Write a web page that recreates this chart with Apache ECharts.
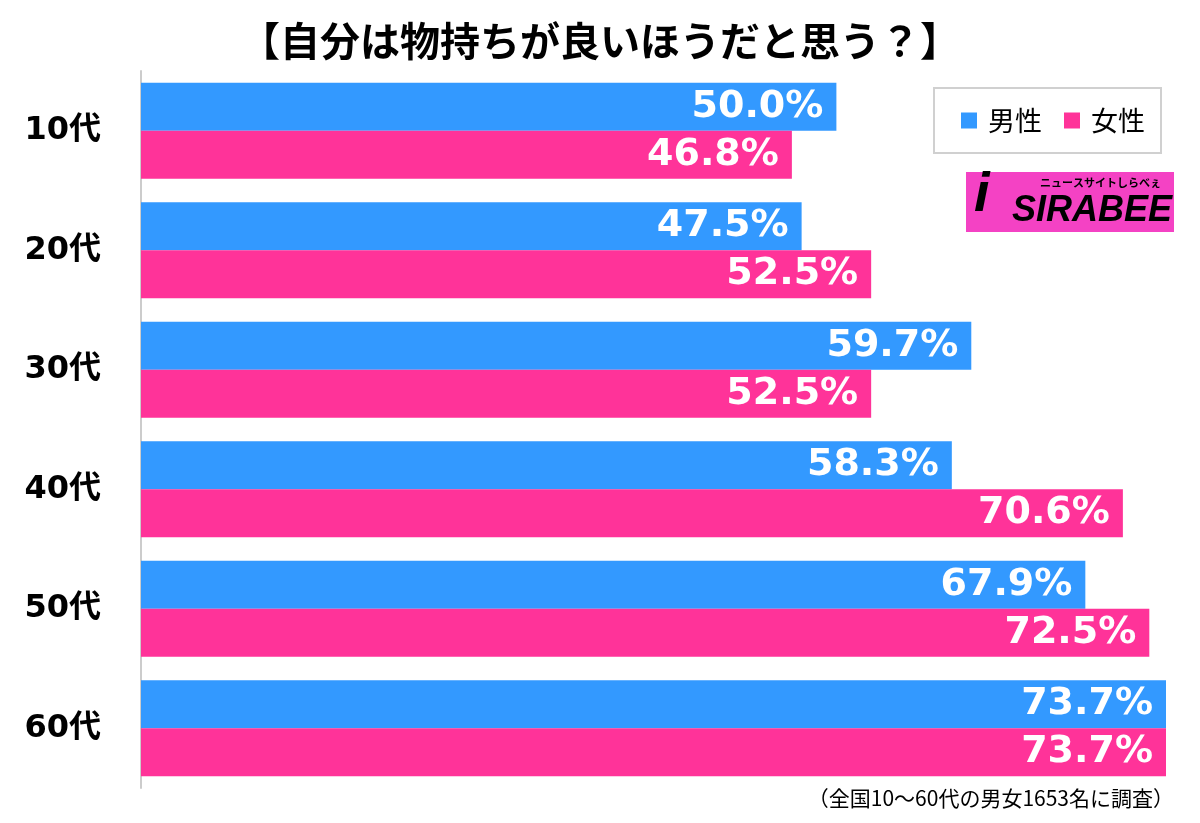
<!DOCTYPE html>
<html>
<head>
<meta charset="utf-8">
<script src="https://cdn.jsdelivr.net/npm/echarts@6/dist/echarts.min.js"></script>
<style>html,body{margin:0;padding:0;background:#fff;}#c{width:1200px;height:823px;}</style>
</head>
<body>
<div id="c"></div>
<script>
const categories = ['10代', '20代', '30代', '40代', '50代', '60代'];
const seriesNames = ['男性', '女性'];
const maleValues = [50.0, 47.5, 59.7, 58.3, 67.9, 73.7];
const femaleValues = [46.8, 52.5, 52.5, 70.6, 72.5, 73.7];
const titleText = '【自分は物持ちが良いほうだと思う？】';
const noteText = '（全国10～60代の男女1653名に調査）';

const BLUE = '#3399ff';
const PINK = '#ff3399';
const chart = echarts.init(document.getElementById('c'), null, {renderer: 'canvas'});

const labelCfg = {
  show: true,
  position: 'insideRight',
  distance: 13,
  color: '#fff',
  fontFamily: 'DejaVu Sans',
  fontWeight: 'bold',
  fontSize: 38,
  formatter: p => p.value.toFixed(1) + '%'
};

chart.setOption({
  animation: false,
  backgroundColor: '#fff',
  title: {
    text: titleText,
    left: 'center',
    top: 16,
    textStyle: {fontFamily: 'Noto Sans CJK JP', fontWeight: 'bold', fontSize: 40, color: '#000'}
  },
  legend: {
    data: seriesNames,
    left: 934,
    top: 88,
    width: 234,
    padding: [19, 16, 19, 27],
    borderColor: '#d0d0d0',
    borderWidth: 2,
    itemWidth: 16,
    itemHeight: 16,
    itemGap: 22,
    icon: 'rect',
    textStyle: {fontFamily: 'Noto Sans CJK JP', fontSize: 27, color: '#000', padding: [0, 0, 0, 6]}
  },
  grid: {left: 141, right: 34, top: 71, bottom: 35, containLabel: false},
  xAxis: {
    type: 'value', min: 0, max: 73.7,
    show: false
  },
  yAxis: {
    type: 'category',
    data: categories,
    inverse: true,
    axisLine: {show: true, lineStyle: {color: '#cccccc', width: 2}},
    axisTick: {show: false},
    axisLabel: {
      margin: 40,
      color: '#000',
      fontFamily: ['DejaVu Sans', 'Noto Sans CJK JP'],
      fontWeight: 'bold',
      fontSize: 32
    }
  },
  series: [
    {name: seriesNames[0], type: 'bar', data: maleValues, barWidth: 48, barGap: '0%',
     itemStyle: {color: BLUE}, label: labelCfg, z: 2},
    {name: seriesNames[1], type: 'bar', data: femaleValues, barWidth: 48, barGap: '0%',
     itemStyle: {color: PINK}, label: labelCfg, z: 2}
  ],
  graphic: [
    {type: 'rect', left: 966, top: 172, shape: {width: 208, height: 60}, style: {fill: '#f442c4'}, z: 10},
    {type: 'text', left: 974, top: 168, style: {text: 'i', font: 'italic bold 56px "Liberation Sans"', fill: '#000'}, z: 11},
    {type: 'text', left: 1012, top: 193, style: {text: 'SIRABEE', font: 'italic bold 36px "Liberation Sans"', fill: '#000'}, z: 11},
    {type: 'text', left: 1040, top: 177, style: {text: 'ニュースサイトしらべぇ', font: 'bold 11px "Noto Sans CJK JP"', fill: '#000'}, z: 11},
    {type: 'text', right: 26, top: 788, style: {text: noteText, font: '21px "Noto Sans CJK JP"', fill: '#000'}, z: 11}
  ]
});
</script>
</body>
</html>
